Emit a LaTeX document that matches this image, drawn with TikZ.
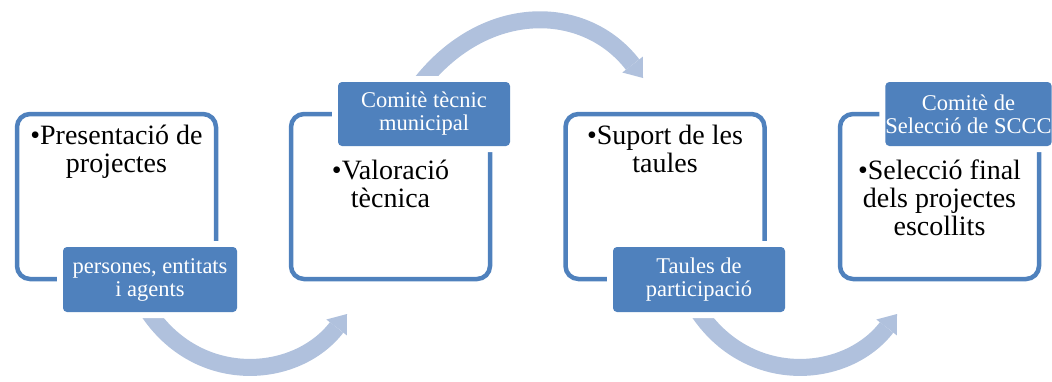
\documentclass[tikz,border=0pt]{standalone}
\usepackage{fontspec}
\setmainfont{Liberation Serif}
\usetikzlibrary{arrows.meta}
\definecolor{accblue}{RGB}{79,129,189}
\definecolor{arrowblue}{RGB}{176,193,221}
\begin{document}
\begin{tikzpicture}[x=1pt,y=-1pt,
  stepframe/.style={draw=accblue, line width=4.5pt, rounded corners=13pt, minimum width=199pt, minimum height=165pt, inner sep=0pt},
  tag/.style={fill=accblue, rounded corners=4pt, text=white, font=\fontsize{22.5}{23}\selectfont, align=center, inner sep=0pt, preaction={draw=white, line width=12pt}},
  body/.style={font=\fontsize{28}{28}\selectfont, align=center, anchor=base, inner sep=0pt},
  flow/.style={draw=arrowblue, line width=17pt, -{Triangle[length=17pt,width=26pt,line width=0pt]}}]
\useasboundingbox (0,0) rectangle (1052,381);
% frames
\node[stepframe] (b1) at (116.5,196.5) {};
\node[stepframe] (b2) at (390.5,196.5) {};
\node[stepframe] (b3) at (665,196.5) {};
\node[stepframe] (b4) at (939.5,196.5) {};
% body texts (anchored at the baseline of the last line)
\node[body] (x1) at (116.5,172) {•Presentació de\\projectes};
\node[body] (x2) at (390.5,207) {•Valoració\\tècnica};
\node[body] (x3) at (665,172) {•Suport de les\\taules};
\node[body] (x4) at (939.5,235) {•Selecció final\\dels projectes\\escollits};
% arrows
\coordinate (a1s) at (147.6,310.4);
\coordinate (a1e) at (347,314);
\coordinate (a2s) at (421,83);
\coordinate (a2e) at (643,78);
\coordinate (a3s) at (697.6,310.4);
\coordinate (a3e) at (897,314);
\draw[flow] (a1s) .. controls (198,387) and (296,380) .. (a1e);
\draw[flow] (a2s) .. controls (486,1) and (585,3) .. (a2e);
\draw[flow] (a3s) .. controls (748,387) and (846,380) .. (a3e);
% tags
\node[tag, minimum width=174pt, minimum height=65pt] (t1) at (150,279.5) {persones, entitats\\i agents};
\node[tag, minimum width=172pt, minimum height=64pt] (t2) at (424,114) {Comitè tècnic\\municipal};
\node[tag, minimum width=172pt, minimum height=65pt] (t3) at (699,279.5) {Taules de\\participació};
\node[tag, minimum width=163pt, minimum height=64pt] (t4) at (968.5,114) {Comitè de\\Selecció de SCCC};
\end{tikzpicture}
\end{document}
